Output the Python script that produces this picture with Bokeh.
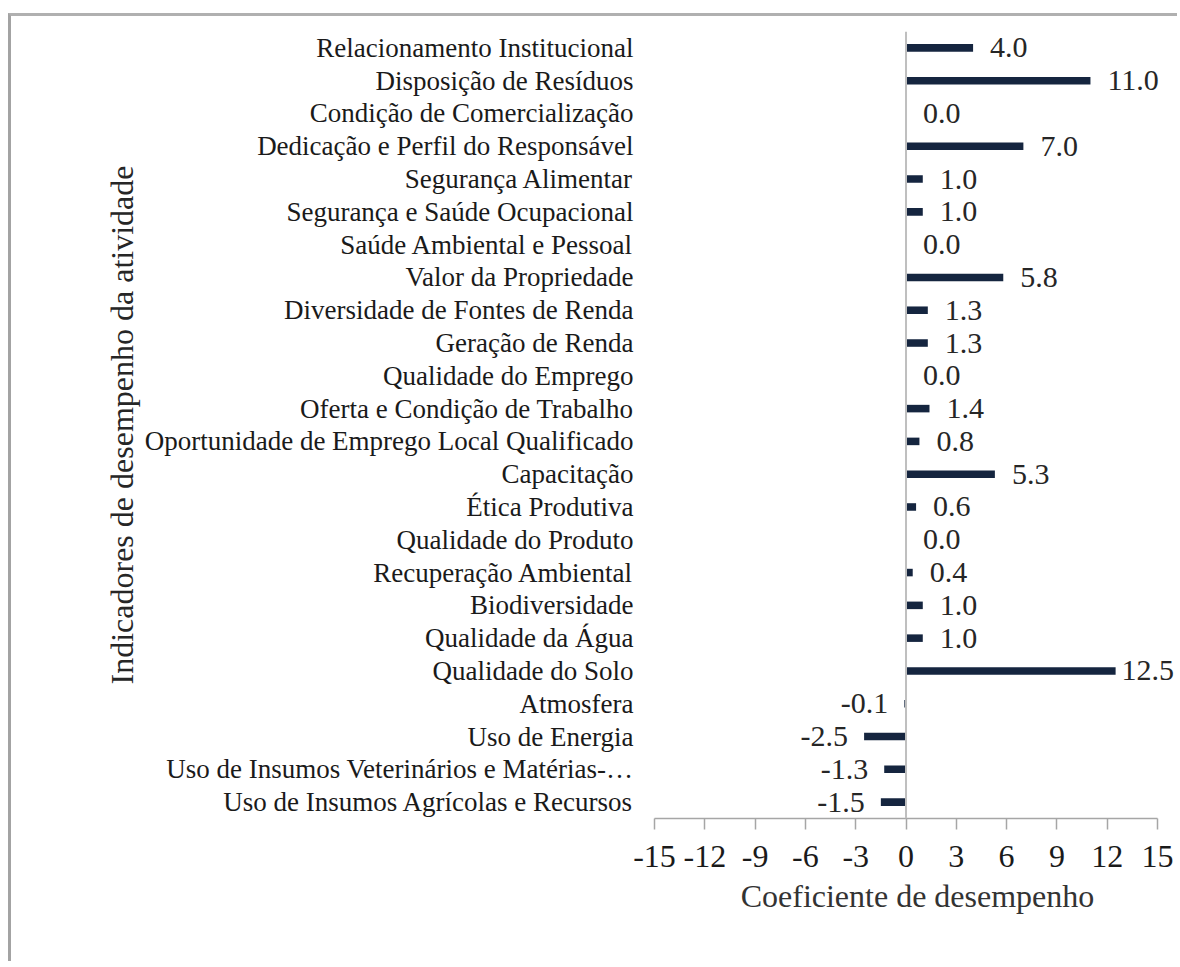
from bokeh.plotting import figure
from bokeh.models import ColumnDataSource, FactorRange, Range1d, FixedTicker, Span, LabelSet
from bokeh.embed import file_html
from bokeh.resources import INLINE

indicators = [
    "Relacionamento Institucional",
    "Disposição de Resíduos",
    "Condição de Comercialização",
    "Dedicação e Perfil do Responsável",
    "Segurança Alimentar",
    "Segurança e Saúde Ocupacional",
    "Saúde Ambiental e Pessoal",
    "Valor da Propriedade",
    "Diversidade de Fontes de Renda",
    "Geração de Renda",
    "Qualidade do Emprego",
    "Oferta e Condição de Trabalho",
    "Oportunidade de Emprego Local Qualificado",
    "Capacitação",
    "Ética Produtiva",
    "Qualidade do Produto",
    "Recuperação Ambiental",
    "Biodiversidade",
    "Qualidade da Água",
    "Qualidade do Solo",
    "Atmosfera",
    "Uso de Energia",
    "Uso de Insumos Veterinários e Matérias-…",
    "Uso de Insumos Agrícolas e Recursos",
]
coefficients = [4.0, 11.0, 0.0, 7.0, 1.0, 1.0, 0.0, 5.8, 1.3, 1.3, 0.0, 1.4, 0.8,
                5.3, 0.6, 0.0, 0.4, 1.0, 1.0, 12.5, -0.1, -2.5, -1.3, -1.5]
x_ticks = [-15, -12, -9, -6, -3, 0, 3, 6, 9, 12, 15]
x_tick_labels = ["-15", "-12", "-9", "-6", "-3", "0", "3", "6", "9", "12", "15"]
x_title = "Coeficiente de desempenho"
y_title = "Indicadores de desempenho da atividade"

SERIF = "Liberation Serif"
BAR = "#15253f"

src = ColumnDataSource(dict(
    cat=indicators,
    val=coefficients,
    lab=[f"{v:.1f}" for v in coefficients],
    align=["left" if v >= 0 else "right" for v in coefficients],
    xoff=[(17 if v < 12 else 6) if v >= 0 else -16 for v in coefficients],
))

p = figure(
    width=1169, height=948,
    y_range=FactorRange(factors=list(reversed(indicators)), range_padding=0),
    x_range=Range1d(-15, 16.37),
    output_backend="svg", toolbar_location=None,
    min_border_left=643, min_border_right=0, min_border_top=15, min_border_bottom=146,
)
p.styles = {"border-left": "3px solid #a3a3a3", "border-top": "3px solid #b0b0b0",
            "margin-top": "13px", "margin-left": "8px"}
p.outline_line_color = None
p.xgrid.grid_line_color = None
p.ygrid.grid_line_color = None

p.hbar(y="cat", right="val", left=0, height=0.23, source=src,
       fill_color=BAR, line_color=None)

p.add_layout(Span(location=0, dimension="height", line_color="#bfbfbf", line_width=2))

p.add_layout(LabelSet(x="val", y="cat", text="lab", source=src, text_align="align",
                      x_offset="xoff", y_offset=0, text_baseline="middle",
                      text_font=SERIF, text_font_size="30px", text_color="#262626"))

xa = p.xaxis[0]
xa.bounds = (-15, 15)
xa.ticker = FixedTicker(ticks=x_ticks)
xa.major_label_overrides = {t: s for t, s in zip(x_ticks, x_tick_labels)}
xa.axis_line_color = "#a6a6a6"
xa.axis_line_width = 1.5
xa.major_tick_line_color = "#a6a6a6"
xa.major_tick_line_width = 1.5
xa.major_tick_out = 11
xa.major_tick_in = 0
xa.minor_tick_line_color = None
xa.major_label_standoff = 16
xa.major_label_text_font = SERIF
xa.major_label_text_font_size = "32px"
xa.major_label_text_color = "#1a1a1a"
xa.axis_label = x_title
xa.axis_label_text_font = SERIF
xa.axis_label_text_font_size = "32px"
xa.axis_label_text_font_style = "normal"
xa.axis_label_text_color = "#333333"
xa.axis_label_standoff = 8

ya = p.yaxis[0]
ya.axis_line_color = None
ya.major_tick_line_color = None
ya.minor_tick_line_color = None
ya.major_label_standoff = 15
ya.major_label_text_font = SERIF
ya.major_label_text_font_size = "27px"
ya.major_label_text_color = "#1a1a1a"
ya.axis_label = y_title
ya.axis_label_text_font = SERIF
ya.axis_label_text_font_size = "32px"
ya.axis_label_text_font_style = "normal"
ya.axis_label_text_color = "#262626"
ya.axis_label_standoff = 2

open("out.html", "w").write(file_html(p, INLINE))
